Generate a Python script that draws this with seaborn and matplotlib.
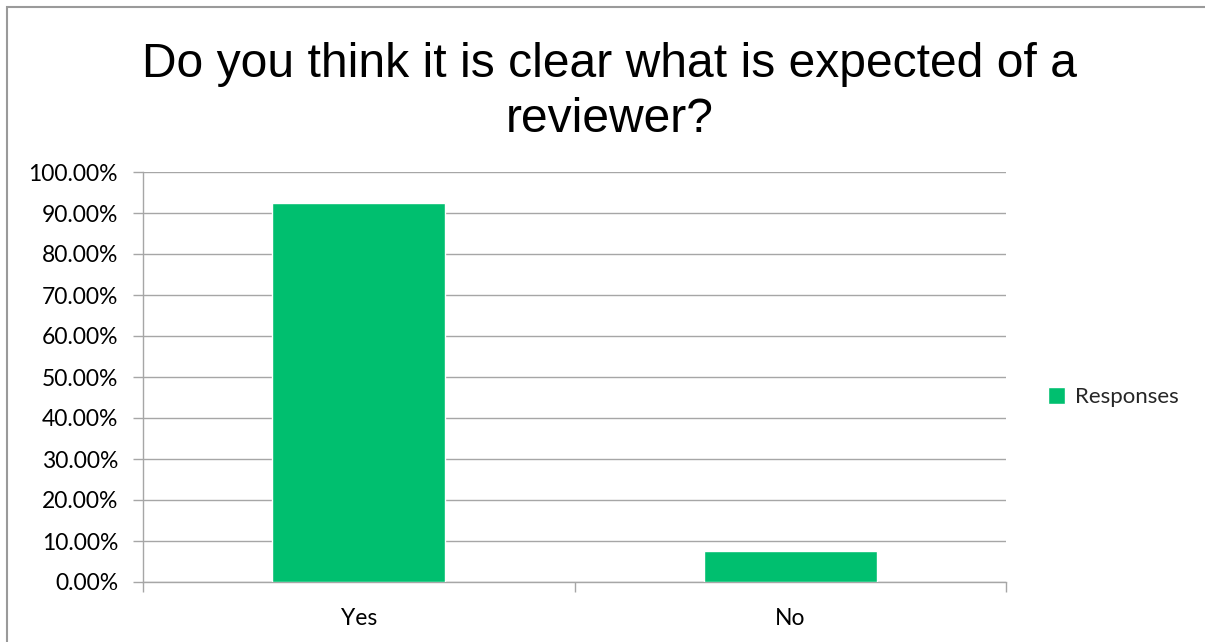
import matplotlib
matplotlib.use("Agg")
import matplotlib.pyplot as plt
from matplotlib.patches import Rectangle
from matplotlib.ticker import FixedLocator, PercentFormatter
import seaborn as sns
import pandas as pd

# Survey answers and their share of responses (%)
categories = ["Yes", "No"]
shares = [92.4, 7.6]
series_name = "Responses"
title = "Do you think it is clear what is expected of a\nreviewer?"

df = pd.DataFrame({"answer": categories, "share": shares, "series": series_name})

sns.set_theme(style="white")
plt.rcParams["font.family"] = ["Lato", "DejaVu Sans"]

fig = plt.figure(figsize=(12.05, 6.42), dpi=100)
ax = fig.add_axes([143 / 1205, 1 - 582 / 642, (1006 - 143) / 1205, (582 - 172) / 642])

bar_green = "#00BF6F"
grid_grey = "#A6A6A6"
label_size = 16.5

sns.barplot(data=df, x="answer", y="share", hue="series", palette=[bar_green],
            width=0.4, saturation=1, ax=ax, zorder=3)

ax.set_ylim(0, 100)
ax.set_xlim(-0.5, 1.5)
ax.yaxis.set_major_locator(FixedLocator(list(range(0, 101, 10))))
ax.yaxis.set_major_formatter(PercentFormatter(decimals=2))
ax.grid(axis="y", color=grid_grey, linewidth=1, zorder=0)
ax.set_axisbelow(True)
ax.set_xlabel("")
ax.set_ylabel("")

for side in ("top", "right"):
    ax.spines[side].set_visible(False)
for side in ("left", "bottom"):
    ax.spines[side].set_color(grid_grey)
    ax.spines[side].set_linewidth(1)

# category labels between boundary ticks
ax.set_xticks([-0.5, 0.5, 1.5], minor=True)
ax.tick_params(axis="x", which="minor", length=7, width=1, color=grid_grey, direction="out", bottom=True)
ax.tick_params(axis="x", which="major", length=0, pad=19, labelsize=label_size, labelcolor="black")
ax.tick_params(axis="y", which="major", length=7, width=1, color=grid_grey, direction="out", left=True,
               labelsize=label_size, labelcolor="black", pad=11)

leg = ax.legend(loc="center left", bbox_to_anchor=(1.025, 0.451), frameon=False,
                handlelength=0.8, handleheight=0.8, handletextpad=0.45, fontsize=16)

fig.text(610 / 1205, 1 - 92 / 642, title, ha="center", va="center", fontsize=34.6,
         family=["Liberation Sans", "DejaVu Sans"], color="black", linespacing=1.3)

# outer chart frame
fig.patches.append(Rectangle((6.5 / 1205, -0.1), 1.2, 1 - 7 / 642 + 0.1, transform=fig.transFigure,
                             fill=False, edgecolor="#9A9A9A", linewidth=1.5))

fig.savefig("out.png", dpi=100)
